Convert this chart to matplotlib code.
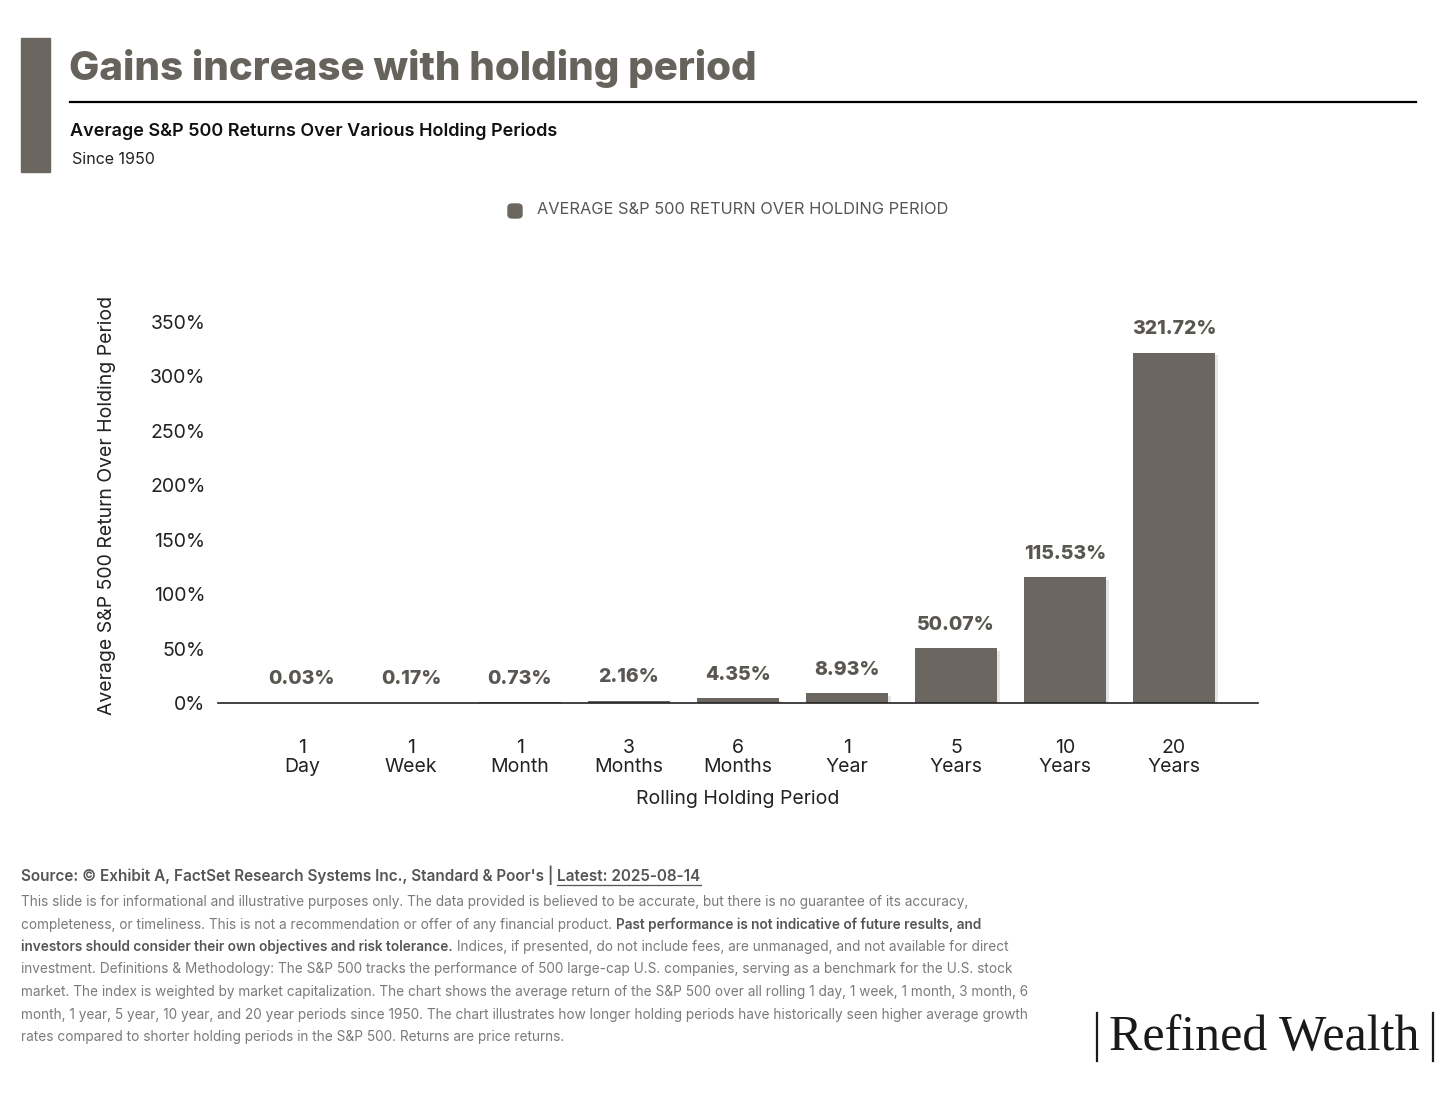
import matplotlib
matplotlib.use('Agg')
import matplotlib.pyplot as plt
import matplotlib.patheffects as pe
from matplotlib.patches import Rectangle, FancyBboxPatch
from matplotlib.lines import Line2D

plt.rcParams['font.family'] = ['Inter', 'DejaVu Sans']

periods = ['1\nDay', '1\nWeek', '1\nMonth', '3\nMonths', '6\nMonths',
           '1\nYear', '5\nYears', '10\nYears', '20\nYears']
returns = [0.03, 0.17, 0.73, 2.16, 4.35, 8.93, 50.07, 115.53, 321.72]
yticks = [0, 50, 100, 150, 200, 250, 300, 350]

bar_color = '#6b6760'
W, H = 1456, 1106

fig = plt.figure(figsize=(W / 100, H / 100), dpi=100)


def fx(px):
    return px / W


def fy(py):
    return 1 - py / H


# header
fig.patches.append(Rectangle((fx(21), fy(172)), fx(29), (172 - 38) / H,
                             transform=fig.transFigure, color=bar_color))
fig.text(fx(69), fy(68), 'Gains increase with holding period', fontsize=29,
         fontweight='heavy', color='#66625c', va='center', ha='left')
fig.add_artist(Line2D([fx(70), fx(1416)], [fy(102), fy(102)], color='black', lw=1.6,
                      transform=fig.transFigure))
fig.text(fx(70), fy(131), 'Average S&P 500 Returns Over Various Holding Periods',
         fontsize=13, fontweight='semibold', color='#111111', va='center')
fig.text(fx(72), fy(160), 'Since 1950', fontsize=11.5, color='#222222', va='center')

# legend
fig.patches.append(FancyBboxPatch((fx(508), fy(218)), fx(14), 14 / H,
                                  boxstyle='round,pad=0,rounding_size=0.003',
                                  transform=fig.transFigure, color=bar_color))
fig.text(fx(537), fy(210), 'AVERAGE S&P 500 RETURN OVER HOLDING PERIOD', fontsize=11.8,
         color='#555555', va='center')

# chart
ax = fig.add_axes([fx(218), fy(703), fx(1258 - 218), (703 - 300) / H])
x = list(range(len(periods)))
bars = ax.bar(x, returns, width=0.75, color=bar_color, zorder=2)
for b in bars:
    b.set_path_effects([pe.SimplePatchShadow(offset=(2, -2), shadow_rgbFace='#aaaaaa',
                                             alpha=0.3), pe.Normal()])
for xi, v in zip(x, returns):
    ax.annotate('%.2f%%' % v, (xi, v), xytext=(0, 17), textcoords='offset points',
                ha='center', va='center', fontsize=14, fontweight='heavy',
                color='#5a5752')

ax.set_xlim(-0.77, len(periods) - 1 + 0.77)
ax.set_ylim(0, 370)
ax.set_yticks(yticks)
ax.set_yticklabels(['%d%%' % t for t in yticks], fontsize=14, color='#222222')
ax.set_xticks(x)
ax.set_xticklabels(periods, fontsize=14, color='#222222', linespacing=1.05)
ax.tick_params(axis='y', length=0, pad=9)
ax.tick_params(axis='x', length=0, pad=26)
for s in ['top', 'right', 'left']:
    ax.spines[s].set_visible(False)
ax.spines['bottom'].set_color('#222222')
ax.spines['bottom'].set_linewidth(1.2)

fig.text(fx(107), fy(505), 'Average S&P 500 Return Over Holding Period', rotation=90,
         fontsize=14, color='#222222', ha='center', va='center')
fig.text(fx(738), fy(799), 'Rolling Holding Period', fontsize=14, color='#222222',
         ha='center', va='center')

# footer
fig.canvas.draw()
renderer = fig.canvas.get_renderer()


def rich_line(px, py, parts, size=9.8, va='center'):
    cur = fx(px)
    for txt, bold, col in parts:
        t = fig.text(cur, fy(py), txt, fontsize=size, color=col,
                     fontweight='semibold' if bold else 'normal', va=va, ha='left')
        bb = t.get_window_extent(renderer=renderer)
        cur = bb.x1 / W
    return cur


src_col = '#555555'
txt_col = '#7a7a7a'
bold_col = '#555555'
end = rich_line(21, 881, [("Source: \u00a9 Exhibit A, FactSet Research Systems Inc., Standard & Poor's | ",
                           True, src_col)], size=11, va='baseline')
lat = fig.text(end, fy(881), 'Latest: 2025-08-14', fontsize=11, color=src_col,
               fontweight='semibold', va='baseline', ha='left')
lb = lat.get_window_extent(renderer=renderer)
fig.add_artist(Line2D([lb.x0 / W, lb.x1 / W], [fy(885), fy(885)], color=src_col, lw=0.9,
                      transform=fig.transFigure))

footer = [
    [("This slide is for informational and illustrative purposes only. The data provided is believed to be accurate, but there is no guarantee of its accuracy,", False, txt_col)],
    [("completeness, or timeliness. This is not a recommendation or offer of any financial product. ", False, txt_col),
     ("Past performance is not indicative of future results, and", True, bold_col)],
    [("investors should consider their own objectives and risk tolerance.", True, bold_col),
     (" Indices, if presented, do not include fees, are unmanaged, and not available for direct", False, txt_col)],
    [("investment. Definitions & Methodology: The S&P 500 tracks the performance of 500 large-cap U.S. companies, serving as a benchmark for the U.S. stock", False, txt_col)],
    [("market. The index is weighted by market capitalization. The chart shows the average return of the S&P 500 over all rolling 1 day, 1 week, 1 month, 3 month, 6", False, txt_col)],
    [("month, 1 year, 5 year, 10 year, and 20 year periods since 1950. The chart illustrates how longer holding periods have historically seen higher average growth", False, txt_col)],
    [("rates compared to shorter holding periods in the S&P 500. Returns are price returns.", False, txt_col)],
]
for i, parts in enumerate(footer):
    rich_line(21, 902 + i * 22.5, parts)

# logo
fig.text(fx(1264), fy(1038), 'Refined Wealth', fontsize=36, family='Liberation Serif',
         color='#1a1a1a', ha='center', va='center')
for lx in (1097, 1433):
    fig.add_artist(Line2D([fx(lx), fx(lx)], [fy(1013), fy(1061)], color='#1a1a1a', lw=1.6,
                          transform=fig.transFigure))

fig.savefig('out.png', dpi=100, facecolor='white')
